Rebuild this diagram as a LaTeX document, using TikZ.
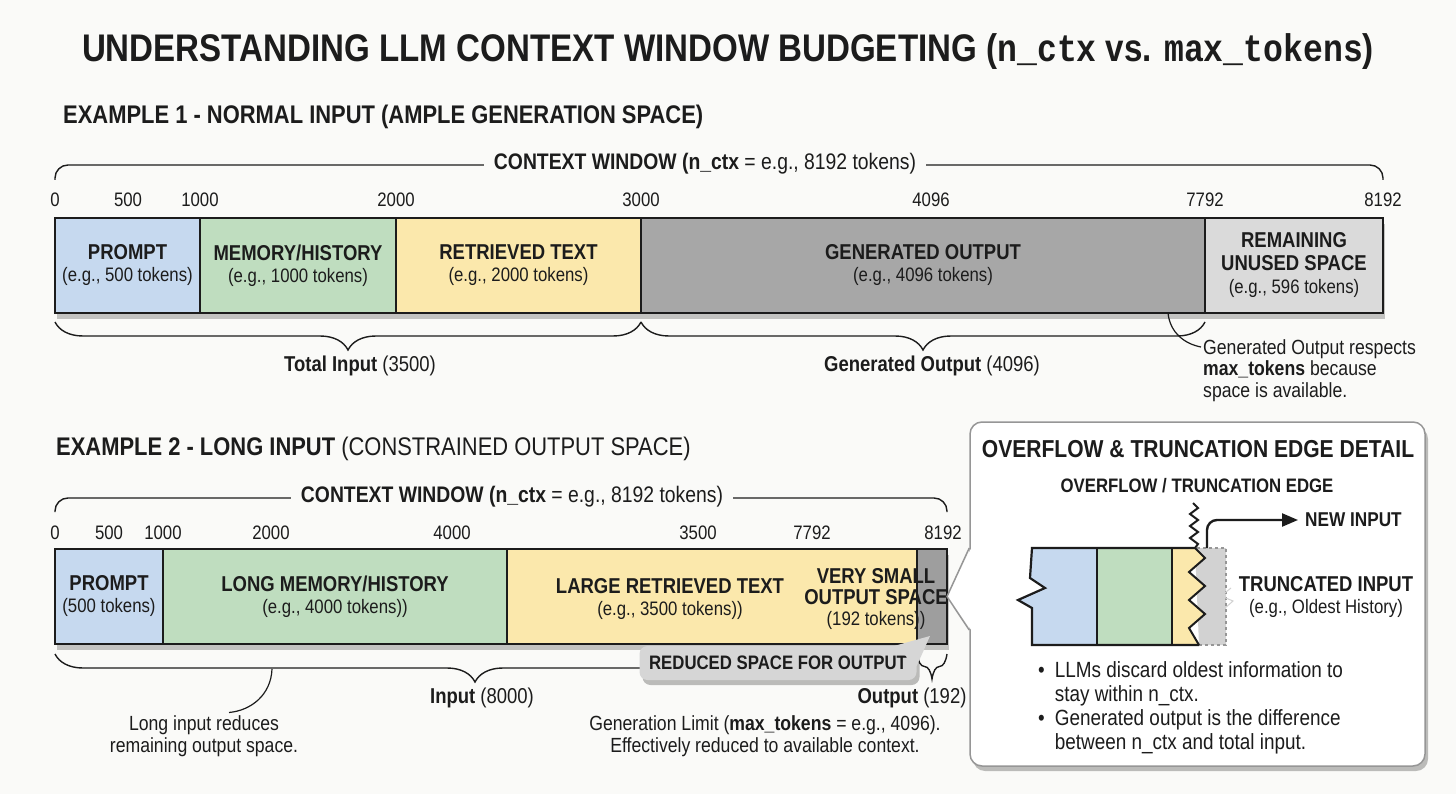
\documentclass[tikz,border=0pt]{standalone}
\usepackage{fontspec}
\setmainfont{Liberation Sans}[FakeStretch=0.86]
\newfontfamily\codefont{Liberation Mono}[FakeStretch=0.86]
\usepackage{xcolor}
\usepackage{tikz}
\usetikzlibrary{positioning}
\usetikzlibrary{calc}
\usetikzlibrary{decorations.pathreplacing}
\usetikzlibrary{shadows}
\usetikzlibrary{arrows.meta}

\definecolor{paper}{RGB}{250,250,248}
\definecolor{ink}{RGB}{28,28,28}
\definecolor{promptblue}{RGB}{198,217,239}
\definecolor{memgreen}{RGB}{191,221,191}
\definecolor{retyellow}{RGB}{251,232,172}
\definecolor{gendark}{RGB}{167,167,167}
\definecolor{unusedgray}{RGB}{218,218,218}
\definecolor{outdark}{RGB}{158,158,158}
\definecolor{calloutgray}{RGB}{214,214,214}
\definecolor{cutgray}{RGB}{210,210,210}
\definecolor{framegray}{RGB}{150,150,150}

\newcommand{\pxfont}[2]{\fontsize{#1}{#2}\selectfont}
\newcommand{\segtitle}[1]{{\pxfont{21.5}{22}\bfseries #1}}

\pgfdeclarelayer{paperlayer}
\pgfdeclarelayer{shadowlayer}
\pgfsetlayers{paperlayer,shadowlayer,main}

\begin{document}
\begin{tikzpicture}[x=1pt,y=-1pt,
    every node/.style={text=ink},
    seg/.style={draw=ink, line width=1.1pt, outer sep=0pt, inner sep=0pt, minimum height=95pt, align=center, font=\pxfont{19.5}{22}},
    barframe/.style={draw=ink, line width=2.2pt},
    barshadow/.style={fill=white, drop shadow={shadow xshift=2pt, shadow yshift=-6pt, opacity=0.22, fill=black}},
    tick/.style={font=\pxfont{19.5}{22}, inner sep=0pt},
    ctx/.style={draw=ink, line width=1.4pt, rounded corners=13pt},
    ctxlabel/.style={fill=paper, inner xsep=10pt, inner ysep=2pt, font=\pxfont{22.5}{26}},
    under/.style={draw=ink, line width=1.4pt, decorate, decoration={brace, mirror, amplitude=28pt}},
    bracelabel/.style={font=\pxfont{21.5}{24}, inner sep=0pt},
    note/.style={font=\pxfont{20.5}{21.5}, inner sep=0pt},
    pointer/.style={draw=ink, line width=1.2pt},
    boxshadow/.style={drop shadow={shadow xshift=3pt, shadow yshift=-5pt, opacity=0.25, fill=black}}
]
\useasboundingbox (0,0) rectangle (1456,794);
\begin{pgfonlayer}{paperlayer}
    \fill[paper] (0,0) rectangle (1456,794);
\end{pgfonlayer}

\node[font=\pxfont{38.5}{42}\bfseries] (title) at (728,52) {UNDERSTANDING LLM CONTEXT WINDOW BUDGETING ({\codefont n\_ctx} vs. {\codefont max\_tokens})};

% example 1
\node[anchor=west, inner sep=0pt, font=\pxfont{25.5}{28}\bfseries] (head1) at (63,117) {EXAMPLE 1 - NORMAL INPUT (AMPLE GENERATION SPACE)};

\node[seg, fill=promptblue, minimum width=145pt, anchor=north west] (prompt1) at (55,218) {\segtitle{PROMPT}\\(e.g., 500 tokens)};
\node[seg, fill=memgreen, minimum width=196pt, right=0pt of prompt1] (mem1) {\segtitle{MEMORY/HISTORY}\\(e.g., 1000 tokens)};
\node[seg, fill=retyellow, minimum width=245pt, right=0pt of mem1] (ret1) {\segtitle{RETRIEVED TEXT}\\(e.g., 2000 tokens)};
\node[seg, fill=gendark, minimum width=564pt, right=0pt of ret1] (gen1) {\segtitle{GENERATED OUTPUT}\\(e.g., 4096 tokens)};
\node[seg, fill=unusedgray, minimum width=178pt, right=0pt of gen1] (rem1) {\segtitle{REMAINING}\\[1pt]\segtitle{UNUSED SPACE}\\[1pt](e.g., 596 tokens)};
\begin{pgfonlayer}{shadowlayer}
    \path[barshadow] (prompt1.north west) rectangle (rem1.south east);
\end{pgfonlayer}
\draw[barframe] (prompt1.north west) rectangle (rem1.south east);

\node[tick] (ta0) at (55,200) {0};
\node[tick] (ta1) at (128,200) {500};
\node[tick] (ta2) at (200,200) {1000};
\node[tick] (ta3) at (396,200) {2000};
\node[tick] (ta4) at (641,200) {3000};
\node[tick] (ta5) at (931,200) {4096};
\node[tick] (ta6) at (1205,200) {7792};
\node[tick] (ta7) at (1383,200) {8192};

\draw[ctx] ([yshift=38pt]prompt1.north west) |- ([yshift=53pt]rem1.north east) -- ([yshift=38pt]rem1.north east);
\node[ctxlabel] (ctx1) at (705,164) {\textbf{CONTEXT WINDOW (n\_ctx} = e.g., 8192 tokens)};

\draw[under] ([yshift=-9pt]prompt1.south west) -- ([yshift=-9pt]ret1.south east);
\draw[under] ([yshift=-9pt]gen1.south west) -- ([yshift=-9pt]gen1.south east);
\node[bracelabel] (inlab1) at (360,366) {\textbf{Total Input} (3500)};
\node[bracelabel] (genlab1) at (932,366) {\textbf{Generated Output} (4096)};

\node[note, anchor=north west, align=left] (note1) at (1203,339) {Generated Output respects\\\textbf{max\_tokens} because\\space is available.};
\draw[pointer] ([xshift=-37pt]gen1.south east) .. controls +(2,20) and +(-16,-3) .. ([xshift=-2pt,yshift=-8pt]note1.north west);

% example 2
\node[anchor=west, inner sep=0pt, font=\pxfont{25.5}{28}] (head2) at (56,449) {\textbf{EXAMPLE 2 - LONG INPUT} (CONSTRAINED OUTPUT SPACE)};

\node[seg, fill=promptblue, minimum width=108pt, anchor=north west] (prompt2) at (55,549) {\segtitle{PROMPT}\\(500 tokens)};
\node[seg, fill=memgreen, minimum width=344pt, right=0pt of prompt2] (mem2) {\segtitle{LONG MEMORY/HISTORY}\\(e.g., 4000 tokens))};
\node[seg, fill=retyellow, minimum width=410pt, right=0pt of mem2] (ret2) {};
\node[seg, fill=outdark, minimum width=30pt, right=0pt of ret2] (out2) {};
\begin{pgfonlayer}{shadowlayer}
    \path[barshadow] (prompt2.north west) rectangle (out2.south east);
\end{pgfonlayer}
\draw[barframe] (prompt2.north west) rectangle (out2.south east);
\node[align=center, inner sep=0pt, font=\pxfont{19.5}{22}] (bigret2) at (670,599) {\segtitle{LARGE RETRIEVED TEXT}\\(e.g., 3500 tokens))};
\node[align=center, inner sep=0pt, font=\pxfont{19.5}{21}] (vsmall2) at (876,599) {\segtitle{VERY SMALL}\\\segtitle{OUTPUT SPACE}\\(192 tokens))};

\node[tick] (tb0) at (55,533) {0};
\node[tick] (tb1) at (109,533) {500};
\node[tick] (tb2) at (163,533) {1000};
\node[tick] (tb3) at (271,533) {2000};
\node[tick] (tb4) at (452,533) {4000};
\node[tick] (tb5) at (698,533) {3500};
\node[tick] (tb6) at (812,533) {7792};
\node[tick] (tb7) at (943,533) {8192};

\draw[ctx] ([yshift=37pt]prompt2.north west) |- ([yshift=51pt]out2.north east) -- ([yshift=37pt]out2.north east);
\node[ctxlabel] (ctx2) at (512,497) {\textbf{CONTEXT WINDOW (n\_ctx} = e.g., 8192 tokens)};

\draw[under] ([yshift=-10pt]prompt2.south west) -- ([xshift=-22pt,yshift=-10pt]ret2.south east);
\draw[under, decoration={amplitude=25pt}] ([yshift=-10pt]out2.south west) -- ([yshift=-10pt]out2.south east);

\node[fill=calloutgray, rounded corners=8pt, minimum width=277pt, minimum height=34pt, font=\pxfont{19.5}{22}\bfseries, boxshadow] (reduced) at (778,663) {REDUCED SPACE FOR OUTPUT};
\fill[calloutgray] ([xshift=-22pt]reduced.north east) -- ([xshift=-2pt,yshift=8pt]out2.south) -- ([yshift=-3pt]reduced.east) -- cycle;

\node[bracelabel] (inlab2) at (482,698) {\textbf{Input} (8000)};
\node[bracelabel] (outlab2) at (912,698) {\textbf{Output} (192)};
\node[note, align=center] (long2) at (204,736) {Long input reduces\\remaining output space.};
\node[note, align=center] (genlim2) at (765,736) {Generation Limit (\textbf{max\_tokens} = e.g., 4096).\\Effectively reduced to available context.};
\coordinate (dip2) at (272,669);
\draw[pointer] (dip2) .. controls +(-1,26) and +(22,-2) .. ([xshift=25pt,yshift=3pt]long2.north);

% detail box
\node[draw=framegray, line width=1.5pt, fill=white, rounded corners=12pt, minimum width=455pt, minimum height=344pt, boxshadow] (detail) at (1197.5,594) {};
\fill[white] ([xshift=2pt,yshift=46pt]detail.west) -- (out2.east) -- ([xshift=2pt,yshift=-36pt]detail.west) -- cycle;
\draw[framegray, line width=1.5pt] ([yshift=46pt]detail.west) -- (out2.east) -- ([yshift=-36pt]detail.west);

\node[font=\pxfont{24.5}{27}\bfseries] (dettitle) at (1198,449) {OVERFLOW \& TRUNCATION EDGE DETAIL};
\node[font=\pxfont{19.5}{22}\bfseries] (edgelab) at (1197,486) {OVERFLOW / TRUNCATION EDGE};

\fill[promptblue] (1032,548) -- (1097,548) -- (1097,645) -- (1032,645) -- (1032,608) -- (1018,600) -- (1045,588) -- (1030,578) -- cycle;
\fill[memgreen] (1097,548) rectangle (1172,645);
\fill[cutgray] (1195,548) -- (1226,548) -- (1226,645) -- (1199,645) -- cycle;
\fill[retyellow] (1172,548) -- (1195,548) -- (1205,558) -- (1189,572) -- (1205,586) -- (1189,600) -- (1205,614) -- (1189,628) -- (1199,645) -- (1172,645) -- cycle;
\draw[framegray, dashed, line width=1.2pt] (1199,645) -- (1226,645) -- (1226,548) -- (1195,548);
\draw[white!65!gray, line width=1pt] (1231,588) -- (1221,596) -- (1233,601) -- (1224,609);
\draw[ink, line width=1.1pt] (1097,548) -- (1097,645) (1172,548) -- (1172,645);
\draw[ink, line width=2.2pt] (1195,548) -- (1032,548) -- (1030,578) -- (1045,588) -- (1018,600) -- (1032,608) -- (1032,645) -- (1199,645);
\draw[ink, line width=2pt] (1193,503) -- (1198,508) -- (1190,514) -- (1198,520) -- (1190,526) -- (1198,532) -- (1190,538) -- (1198,544) -- (1195,548) -- (1205,558) -- (1189,572) -- (1205,586) -- (1189,600) -- (1205,614) -- (1189,628) -- (1199,645);

\coordinate (cuttop) at (1207,548);
\node[font=\pxfont{20}{22}\bfseries, anchor=west, inner sep=0pt] (newin) at (1305,520) {NEW INPUT};
\draw[ink, line width=2.4pt, rounded corners=10pt, -{Triangle[length=16pt,width=13pt]}] (cuttop) |- ([xshift=-7pt]newin.west);

\node[align=center, inner sep=0pt, font=\pxfont{19.5}{22}] (trunc) at (1326,597) {\segtitle{TRUNCATED INPUT}\\(e.g., Oldest History)};

\node[anchor=north west, inner sep=0pt, font=\pxfont{22}{24}] (bullets) at (1038,660) {%
    \begin{tabular}{@{}l@{\hspace{10pt}}l@{}}
    \textbullet & LLMs discard oldest information to\\
    & stay within n\_ctx.\\
    \textbullet & Generated output is the difference\\
    & between n\_ctx and total input.
    \end{tabular}};
\end{tikzpicture}
\end{document}
